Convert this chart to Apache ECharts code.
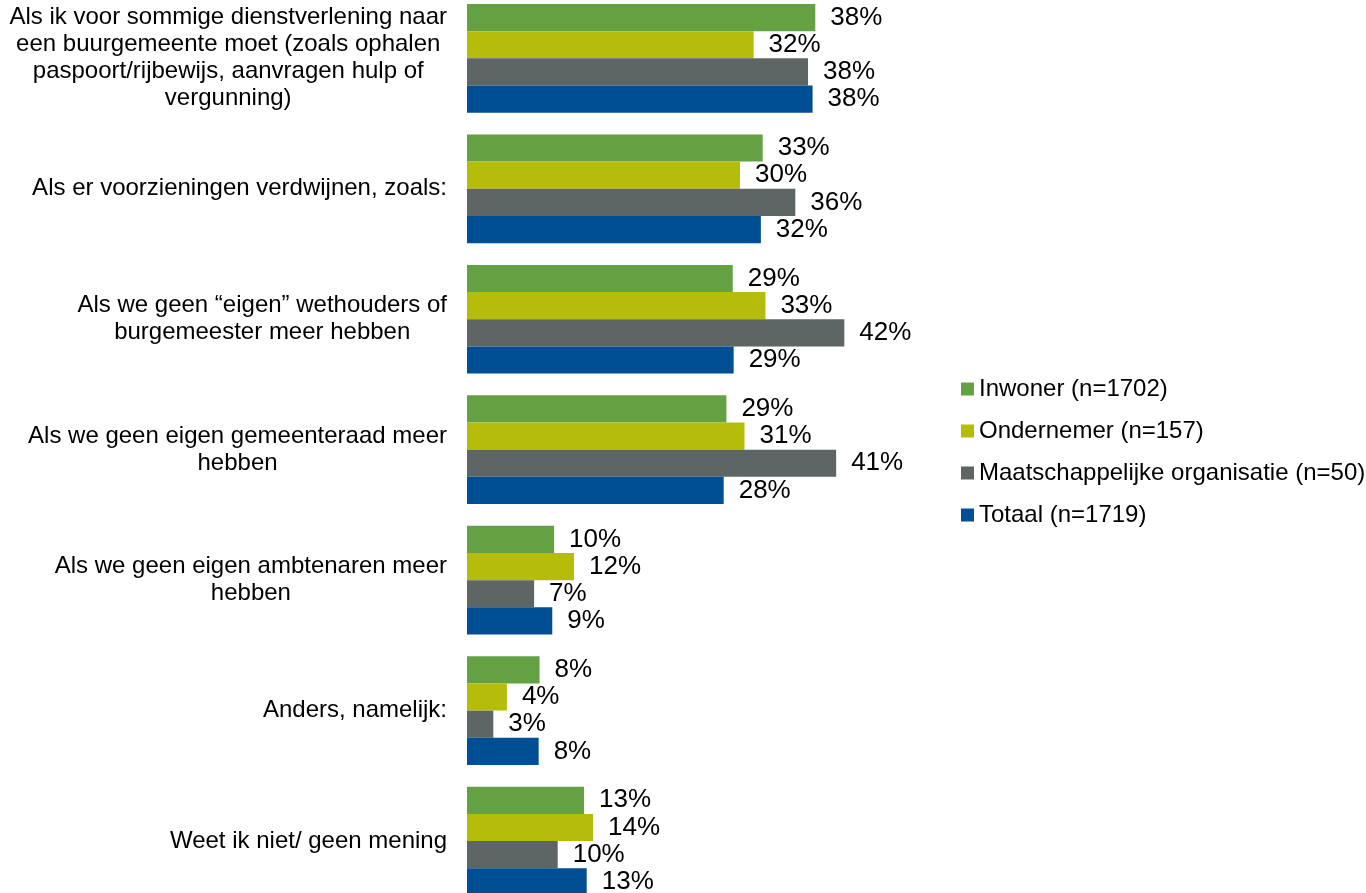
<!DOCTYPE html>
<html>
<head>
<meta charset="utf-8">
<script src="https://cdn.jsdelivr.net/npm/echarts@6/dist/echarts.min.js"></script>
<style>
html,body{margin:0;padding:0;background:#fff;}
#chart{width:1366px;height:893px;}
</style>
</head>
<body>
<div id="chart"></div>
<script>
const categories = [
  "Als ik voor sommige dienstverlening naar\neen buurgemeente moet (zoals ophalen\npaspoort/rijbewijs, aanvragen hulp of\nvergunning)",
  "Als er voorzieningen verdwijnen, zoals:",
  "Als we geen \u201ceigen\u201d wethouders of\nburgemeester meer hebben",
  "Als we geen eigen gemeenteraad meer\nhebben",
  "Als we geen eigen ambtenaren meer\nhebben",
  "Anders, namelijk:",
  "Weet ik niet/ geen mening"
];
const seriesNames = [
  "Inwoner (n=1702)",
  "Ondernemer (n=157)",
  "Maatschappelijke organisatie (n=50)",
  "Totaal (n=1719)"
];
const inwoner       = [38.4, 32.6, 29.3, 28.6, 9.6, 8.0, 12.9];
const ondernemer    = [31.6, 30.1, 32.9, 30.6, 11.8, 4.4, 13.9];
const maatschappij  = [37.6, 36.2, 41.6, 40.7, 7.4, 2.9, 10.0];
const totaal        = [38.1, 32.4, 29.4, 28.3, 9.4, 7.9, 13.2];
const colors = ["#64A143", "#B5BD0A", "#5D6664", "#004F95"];

const FONT = "Liberation Sans, Arial, sans-serif";
const allData = [inwoner, ondernemer, maatschappij, totaal];

const chart = echarts.init(document.getElementById('chart'));
chart.setOption({
  animation: false,
  backgroundColor: '#ffffff',
  grid: { left: 467, width: 453.5, top: -6.9, height: 913.2, outerBoundsMode: 'none', containLabel: false },
  xAxis: { type: 'value', min: 0, max: 50, show: false },
  yAxis: {
    type: 'category', inverse: true, data: categories,
    axisLine: { show: false }, axisTick: { show: false },
    axisLabel: {
      margin: 20,
      fontFamily: FONT, fontSize: 24, color: '#000',
      formatter: function (v) {
        return v.split('\n').map(function (l) { return '{c|' + l + '}'; }).join('\n');
      },
      rich: { c: { align: 'center', fontFamily: FONT, fontSize: 24, lineHeight: 27, color: '#000' } }
    }
  },
  legend: {
    orient: 'vertical', left: 956, top: 372,
    itemWidth: 13, itemHeight: 13, itemGap: 18,
    icon: 'rect',
    textStyle: { fontFamily: FONT, fontSize: 24, color: '#000', lineHeight: 24 },
    data: seriesNames
  },
  series: allData.map(function (d, i) {
    return {
      name: seriesNames[i], type: 'bar', data: d,
      barWidth: 27.17, barGap: '0%',
      itemStyle: { color: colors[i] },
      label: {
        show: true, position: 'right', distance: 15,
        fontFamily: FONT, fontSize: 26, color: '#000',
        formatter: function (p) { return Math.round(p.value) + '%'; }
      }
    };
  })
});
</script>
</body>
</html>
